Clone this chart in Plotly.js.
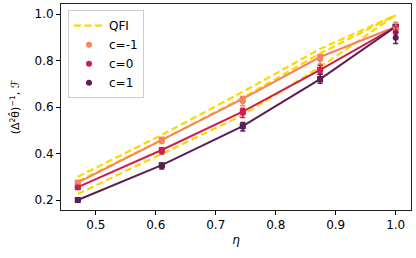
<!DOCTYPE html>
<html><head><meta charset="utf-8">
<script src="https://cdn.plot.ly/plotly-3.0.1.min.js"></script>
<style>html,body{margin:0;padding:0;background:#fff}</style>
</head><body><div id="chart" style="width:416px;height:258px"></div>
<script>
var eta = [0.47, 0.61, 0.745, 0.874, 1.0];
var seriesNames = ['c=-1', 'c=0', 'c=1'];
var seriesColors = ['#f3845f', '#cc1f4f', '#5a1e55'];
// theory (solid lines)
var theoryM1 = [0.275, 0.460, 0.635, 0.815, 0.945];
var theory0  = [0.255, 0.415, 0.580, 0.760, 0.945];
var theoryP1 = [0.200, 0.350, 0.518, 0.720, 0.945];
// measured points with error bars
var dataM1 = [0.270, 0.455, 0.625, 0.805, 0.940];
var data0  = [0.255, 0.410, 0.575, 0.760, 0.922];
var dataP1 = [0.200, 0.345, 0.515, 0.722, 0.898];
var errM1 = [0.006, 0.012, 0.020, 0.020, 0.025];
var err0  = [0.006, 0.012, 0.020, 0.020, 0.025];
var errP1 = [0.006, 0.012, 0.018, 0.020, 0.025];
// QFI (dashed)
var qfiM1 = [0.300, 0.480, 0.665, 0.850, 0.995];
var qfi0  = [0.280, 0.458, 0.640, 0.830, 0.995];
var qfiP1 = [0.226, 0.398, 0.565, 0.772, 0.995];

var theory = [theoryM1, theory0, theoryP1];
var data = [dataM1, data0, dataP1];
var errs = [errM1, err0, errP1];
var qfis = [qfiM1, qfi0, qfiP1];

var traces = [];
qfis.forEach(function(q, i){
  traces.push({x: eta, y: q, mode: 'lines', name: 'QFI', showlegend: i === 0,
    legendrank: 1,
    line: {color: '#ffd700', width: 2.2, dash: '7px,3.5px'}, hoverinfo: 'skip'});
});
theory.forEach(function(t, i){
  traces.push({x: eta, y: t, mode: 'lines+markers', showlegend: false,
    line: {color: seriesColors[i], width: 2},
    marker: {symbol: 'square', size: 6, color: seriesColors[i]}});
});
data.forEach(function(d, i){
  traces.push({x: eta, y: d, mode: 'markers', name: seriesNames[i],
    legendrank: 2 + i,
    marker: {symbol: 'circle', size: 6, color: seriesColors[i]},
    error_y: {type: 'data', array: errs[i], visible: true, color: seriesColors[i], thickness: 1.5, width: 2.5}});
});

var layout = {
  width: 416, height: 258,
  margin: {l: 61, r: 5, t: 4, b: 48},
  paper_bgcolor: '#fff', plot_bgcolor: '#fff',
  font: {family: 'DejaVu Sans', size: 12, color: '#000'},
  showlegend: true,
  legend: {x: 0.02, y: 0.97, xanchor: 'left', yanchor: 'top',
    bgcolor: 'rgba(255,255,255,0.85)', bordercolor: '#cccccc', borderwidth: 1,
    font: {family: 'DejaVu Sans', size: 12}, tracegroupgap: 0, itemwidth: 30},
  xaxis: {range: [0.442, 1.0255], tickvals: [0.5, 0.6, 0.7, 0.8, 0.9, 1.0],
    ticktext: ['0.5', '0.6', '0.7', '0.8', '0.9', '1.0'],
    ticks: 'outside', ticklen: 4, tickwidth: 1, tickcolor: '#000',
    showline: true, mirror: true, linecolor: '#222', linewidth: 1,
    showgrid: false, zeroline: false,
    title: {text: '<i>η</i>', font: {size: 12}, standoff: 4}},
  yaxis: {range: [0.157, 1.043], tickvals: [0.2, 0.4, 0.6, 0.8, 1.0],
    ticktext: ['0.2', '0.4', '0.6', '0.8', '1.0'],
    ticks: 'outside', ticklen: 4, tickwidth: 1, tickcolor: '#000',
    showline: true, mirror: true, linecolor: '#222', linewidth: 1,
    showgrid: false, zeroline: false,
    title: {text: '(Δ<sup>2</sup>θ̂)<sup>−1</sup>, ℱ', font: {size: 11}, standoff: 12}}
};
Plotly.newPlot('chart', traces, layout, {displayModeBar: false, staticPlot: true});
</script></body></html>
